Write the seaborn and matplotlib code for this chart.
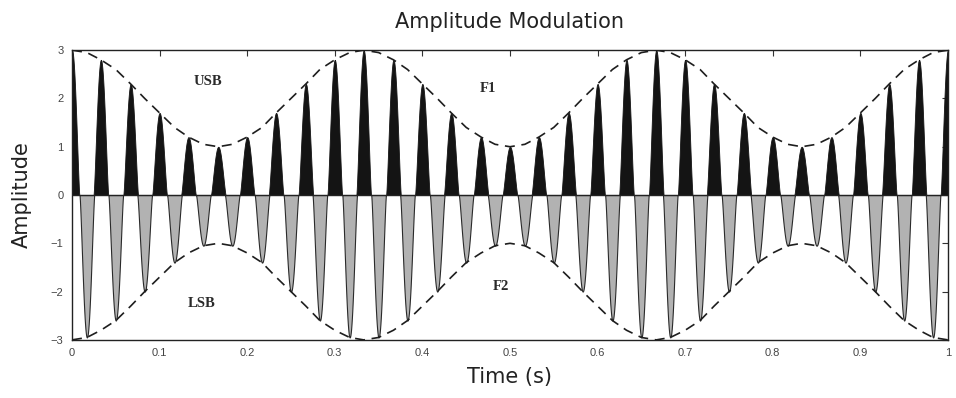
import numpy as np
import matplotlib
matplotlib.use("Agg")
import matplotlib.pyplot as plt
import seaborn as sns

# upper (positive) carrier peaks
upper_t = [0.000, 0.033, 0.067, 0.100, 0.133, 0.167, 0.200, 0.233, 0.267, 0.300,
           0.333, 0.367, 0.400, 0.433, 0.467, 0.500, 0.533, 0.567, 0.600, 0.633,
           0.667, 0.700, 0.733, 0.767, 0.800, 0.833, 0.867, 0.900, 0.933, 0.967, 1.000]
upper_amp = [3.0, 2.8, 2.3, 1.7, 1.2, 1.0, 1.2, 1.7, 2.3, 2.8,
             3.0, 2.8, 2.3, 1.7, 1.2, 1.0, 1.2, 1.7, 2.3, 2.8,
             3.0, 2.8, 2.3, 1.7, 1.2, 1.0, 1.2, 1.7, 2.3, 2.8, 3.0]

# lower (negative) carrier troughs
lower_t = [0.017, 0.050, 0.083, 0.117, 0.150, 0.183, 0.217, 0.250, 0.283, 0.317,
           0.350, 0.383, 0.417, 0.450, 0.483, 0.517, 0.550, 0.583, 0.617, 0.650,
           0.683, 0.717, 0.750, 0.783, 0.817, 0.850, 0.883, 0.917, 0.950, 0.983]
lower_amp = [-2.95, -2.6, -2.0, -1.4, -1.05, -1.05, -1.4, -2.0, -2.6, -2.95,
             -2.95, -2.6, -2.0, -1.4, -1.05, -1.05, -1.4, -2.0, -2.6, -2.95,
             -2.95, -2.6, -2.0, -1.4, -1.05, -1.05, -1.4, -2.0, -2.6, -2.95]

labels = ["USB", "F1", "LSB", "F2"]
label_t = [0.155, 0.475, 0.148, 0.49]
label_y = [2.35, 2.2, -2.25, -1.9]

sns.set_style("white")
plt.rcParams["font.family"] = ["Liberation Sans", "DejaVu Sans"]

fig = plt.figure(figsize=(9.56, 3.98), dpi=100)
ax = fig.add_axes([0.0753, 0.146, 0.9163, 0.728])

half_w = 1 / 120
u = np.linspace(-1, 1, 41)
shape = np.cos(np.pi / 2 * u) ** 1.25

for t, a in zip(upper_t, upper_amp):
    ax.fill_between(t + u * half_w, 0, a * shape, color="#141414", lw=0.6,
                    edgecolor="#141414", zorder=2)
for t, a in zip(lower_t, lower_amp):
    ax.fill_between(t + u * half_w, 0, a * shape, facecolor="#b2b2b2",
                    edgecolor="#2a2a2a", lw=0.8, zorder=2)

ax.axhline(0, color="#222222", lw=1.0, zorder=3)

# envelopes: the dashed curves run through the tips of both lobe sets (mirrored)
env_t = np.array(upper_t + lower_t)
order = np.argsort(env_t)
env_up = np.array(upper_amp + [-v for v in lower_amp])[order]
env_t = env_t[order]

sns.lineplot(x=env_t, y=env_up, ax=ax, color="#1e1e1e", lw=1.2,
             linestyle=(0, (6, 4)), zorder=4)
sns.lineplot(x=env_t, y=-env_up, ax=ax, color="#1e1e1e", lw=1.2,
             linestyle=(0, (6, 4)), zorder=4)

for s, x, y in zip(labels, label_t, label_y):
    ax.text(x, y, s, ha="center", va="center", fontsize=10.5, fontweight="bold",
            family="Liberation Serif", color="#2a2a2a")

ax.set_xlim(0, 1)
ax.set_ylim(-3, 3)
ax.set_xticks(np.arange(0, 1.01, 0.1))
ax.set_xticklabels(["0", "0.1", "0.2", "0.3", "0.4", "0.5", "0.6", "0.7", "0.8", "0.9", "1"])
ax.set_yticks([-3, -2, -1, 0, 1, 2, 3])
ax.tick_params(direction="in", length=4, top=True, right=True, labelsize=8,
               labelcolor="#444444", color="#333333", pad=6)
for sp in ax.spines.values():
    sp.set_color("#222222")
    sp.set_linewidth(1.0)

ax.set_title("Amplitude Modulation", fontsize=15, family="DejaVu Sans",
             color="#222222", pad=16)
ax.set_xlabel("Time (s)", fontsize=15, family="DejaVu Sans", color="#222222", labelpad=6)
ax.set_ylabel("Amplitude", fontsize=15, family="DejaVu Sans", color="#222222", labelpad=14)

fig.savefig("out.png", dpi=100)
